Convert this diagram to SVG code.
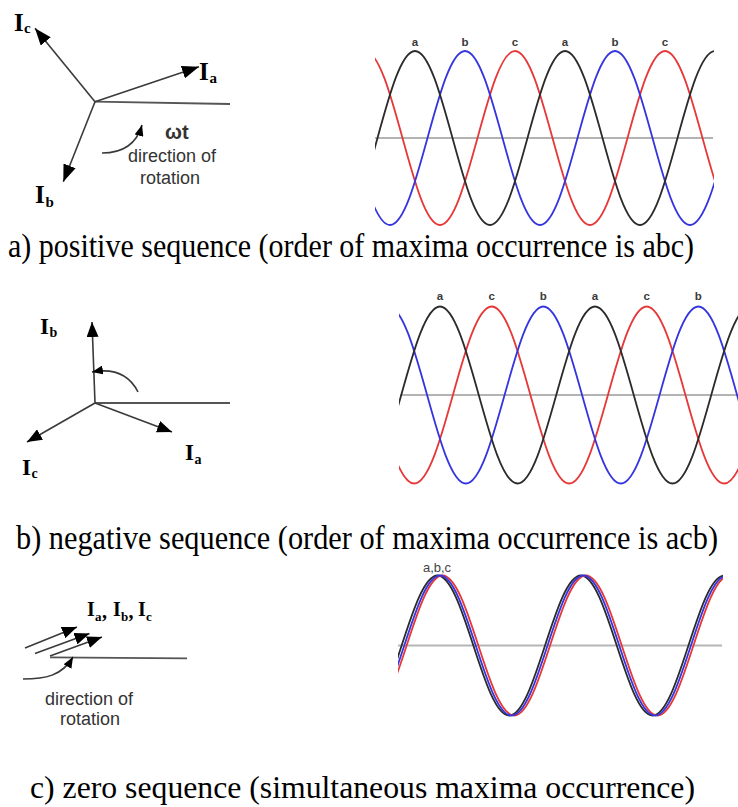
<svg xmlns="http://www.w3.org/2000/svg" width="738" height="807" viewBox="0 0 738 807">
<style>
.ph{stroke:#3a3a3a;stroke-width:1.6;fill:none}
.ref{stroke:#555;stroke-width:1.8;fill:none}
.lbl{font-family:"Liberation Serif","Times New Roman",serif;font-weight:bold;fill:#000}
.sans{font-family:"Liberation Sans",Arial,sans-serif;fill:#333}
.cap{font-family:"Liberation Serif","Times New Roman",serif;font-size:30px;fill:#000}
.wl{font-family:"Liberation Sans",Arial,sans-serif;font-weight:bold;font-size:11.5px;fill:#3a3a3a;text-anchor:middle}
.axis{stroke:#9a9a9a;stroke-width:1.5}
.k{stroke:#2b2b2b;stroke-width:1.8;fill:none}
.b{stroke:#3535e0;stroke-width:1.8;fill:none}
.r{stroke:#e63838;stroke-width:1.8;fill:none}
</style>
<defs>
<marker id="ah" markerUnits="userSpaceOnUse" markerWidth="17" markerHeight="13" refX="17" refY="6.5" orient="auto"><path d="M0,0 L17,6.5 L0,13 z" fill="#000"/></marker>
<marker id="ahm" markerUnits="userSpaceOnUse" markerWidth="15" markerHeight="12" refX="15" refY="6" orient="auto"><path d="M0,0 L15,6 L0,12 z" fill="#000"/></marker>
<marker id="ahs" markerUnits="userSpaceOnUse" markerWidth="11" markerHeight="9" refX="11" refY="4.5" orient="auto"><path d="M0,0 L11,4.5 L0,9 z" fill="#000"/></marker>
<clipPath id="c1"><rect x="375" y="30" width="339" height="205"/></clipPath>
<clipPath id="c2"><rect x="399" y="290" width="339" height="200"/></clipPath>
<clipPath id="c3"><rect x="398" y="565" width="325" height="160"/></clipPath>
</defs>
<rect width="738" height="807" fill="#fff"/>

<g id="connectors">
<path class="ref" d="M95,101.7 L230,104"/>
<path class="ph" d="M95,101.7 L199,66.7" marker-end="url(#ah)"/>
<path class="ph" d="M95,101.7 L35,28.3" marker-end="url(#ah)"/>
<path class="ph" d="M95,101.7 L63.3,181.7" marker-end="url(#ah)"/>
<path class="ph" d="M102,153 Q134,153 142,125" marker-end="url(#ahs)"/>
<path class="ref" d="M95,403 L230,403"/>
<path class="ph" d="M95,403 L92,322" marker-end="url(#ahm)"/>
<path class="ph" d="M95,403 L172,432" marker-end="url(#ahm)"/>
<path class="ph" d="M95,403 L27,442" marker-end="url(#ahm)"/>
<path class="ph" d="M138,392 Q125,366 92,372" marker-end="url(#ahs)"/>
<path class="ph" d="M25,648 L77,627" marker-end="url(#ahm)"/>
<path class="ph" d="M35,653.5 L89.5,633.5" marker-end="url(#ahm)"/>
<path class="ph" d="M50,656 L102,637" marker-end="url(#ahm)"/>
<path class="ref" d="M50,657.3 L187,658.3"/>
<path class="ph" d="M23,679 C45,679 62,676 73,657" marker-end="url(#ahs)"/>
</g>

<g id="phasor-positive">
<text class="lbl" x="14" y="31" font-size="25">I</text><text class="lbl" x="24" y="33" font-size="15">c</text>
<text class="lbl" x="199" y="80" font-size="25">I</text><text class="lbl" x="209.5" y="83" font-size="15">a</text>
<text class="lbl" x="35" y="203" font-size="25">I</text><text class="lbl" x="45.5" y="207" font-size="15">b</text>
<text class="sans" x="165" y="139" font-size="20" font-weight="bold" fill="#222">ωt</text>
<text class="sans" x="128" y="162" font-size="18">direction of</text>
<text class="sans" x="140" y="184" font-size="18">rotation</text>
</g>

<g id="wave-positive">
<line class="axis" x1="375" y1="138" x2="713" y2="138"/>
<g clip-path="url(#c1)">
<path class="r" d="M290,225 C317.25,225 337.75,51 365,51 S412.75,225 440,225 S487.75,51 515,51 S562.75,225 590,225 S637.75,51 665,51 S712.75,225 740,225"/>
<path class="b" d="M315,51 C342.25,51 362.75,225 390,225 S437.75,51 465,51 S512.75,225 540,225 S587.75,51 615,51 S662.75,225 690,225 S737.75,51 765,51"/>
<path class="k" d="M265,51 C292.25,51 312.75,225 340,225 S387.75,51 415,51 S462.75,225 490,225 S537.75,51 565,51 S612.75,225 640,225 S687.75,51 715,51 S762.75,225 790,225"/>
</g>
<text class="wl" x="415" y="46">a</text><text class="wl" x="465" y="46">b</text><text class="wl" x="515" y="46">c</text>
<text class="wl" x="565" y="46">a</text><text class="wl" x="615" y="46">b</text><text class="wl" x="665" y="46">c</text>
</g>

<text id="caption-a" class="cap" transform="translate(8,257) scale(1,1.13)" x="0" y="0" textLength="686" lengthAdjust="spacingAndGlyphs">a) positive sequence (order of maxima occurrence is abc)</text>

<g id="phasor-negative">
<text class="lbl" x="40" y="334" font-size="23">I</text><text class="lbl" x="49.5" y="337" font-size="14">b</text>
<text class="lbl" x="185" y="460" font-size="23">I</text><text class="lbl" x="194.5" y="464" font-size="14">a</text>
<text class="lbl" x="22" y="475" font-size="23">I</text><text class="lbl" x="31.5" y="478" font-size="14">c</text>
</g>

<g id="wave-negative">
<line class="axis" x1="400" y1="395" x2="738" y2="395"/>
<g clip-path="url(#c2)">
<path class="r" d="M336.67,306.5 C364.83,306.5 386.01,483.5 414.17,483.5 S463.51,306.5 491.67,306.5 S541.01,483.5 569.17,483.5 S618.51,306.5 646.67,306.5 S696.01,483.5 724.17,483.5 S773.51,306.5 801.67,306.5"/>
<path class="b" d="M310.83,483.5 C338.99,483.5 360.17,306.5 388.33,306.5 S437.67,483.5 465.83,483.5 S515.17,306.5 543.33,306.5 S592.67,483.5 620.83,483.5 S670.17,306.5 698.33,306.5 S747.67,483.5 775.83,483.5"/>
<path class="k" d="M362.5,483.5 C390.66,483.5 411.84,306.5 440,306.5 S489.34,483.5 517.5,483.5 S566.84,306.5 595,306.5 S644.34,483.5 672.5,483.5 S721.84,306.5 750,306.5"/>
</g>
<text class="wl" x="440" y="299.5">a</text><text class="wl" x="491.7" y="299.5">c</text><text class="wl" x="543.3" y="299.5">b</text>
<text class="wl" x="595" y="299.5">a</text><text class="wl" x="646.7" y="299.5">c</text><text class="wl" x="698.3" y="299.5">b</text>
</g>

<text id="caption-b" class="cap" transform="translate(16,549) scale(1,1.13)" x="0" y="0" textLength="702" lengthAdjust="spacingAndGlyphs">b) negative sequence (order of maxima occurrence is acb)</text>

<g id="phasor-zero">
<text class="lbl" font-size="20" y="616" x="87">I</text>
<text class="lbl" font-size="13" y="620.5" x="95">a</text>
<text class="lbl" font-size="20" y="618" x="102">,</text>
<text class="lbl" font-size="20" y="616" x="113">I</text>
<text class="lbl" font-size="13" y="620.5" x="121">b</text>
<text class="lbl" font-size="20" y="618" x="128.5">,</text>
<text class="lbl" font-size="20" y="616" x="138">I</text>
<text class="lbl" font-size="13" y="620.5" x="146">c</text>
<text class="sans" x="45" y="705" font-size="18">direction of</text>
<text class="sans" x="60" y="725" font-size="18">rotation</text>
</g>

<g id="wave-zero">
<line x1="398" y1="645.5" x2="722" y2="645.5" stroke="#b5b5b5" stroke-width="2"/>
<g clip-path="url(#c3)">
<path class="k" d="M365.8,715.5 C391.86,715.5 411.44,575.5 437.5,575.5 S483.14,715.5 509.2,715.5 S554.84,575.5 580.9,575.5 S626.54,715.5 652.6,715.5 S698.24,575.5 724.3,575.5 S769.94,715.5 796,715.5"/>
<path class="r" d="M370.8,715.5 C396.86,715.5 416.44,575.5 442.5,575.5 S488.14,715.5 514.2,715.5 S559.84,575.5 585.9,575.5 S631.54,715.5 657.6,715.5 S703.24,575.5 729.3,575.5 S774.94,715.5 801,715.5"/>
<path class="b" d="M368.3,715.5 C394.36,715.5 414.24,575.5 440,575.5 S485.64,715.5 511.7,715.5 S557.34,575.5 583.4,575.5 S629.04,715.5 655.1,715.5 S700.74,575.5 726.8,575.5 S772.44,715.5 798.5,715.5"/>
</g>
<text x="437" y="572" font-family="Liberation Sans, Arial, sans-serif" font-size="13" fill="#444" text-anchor="middle">a,b,c</text>
</g>

<text id="caption-c" class="cap" transform="translate(30,798) scale(1,1.08)" x="0" y="0" font-size="31" textLength="665" lengthAdjust="spacingAndGlyphs">c) zero sequence (simultaneous maxima occurrence)</text>
</svg>
